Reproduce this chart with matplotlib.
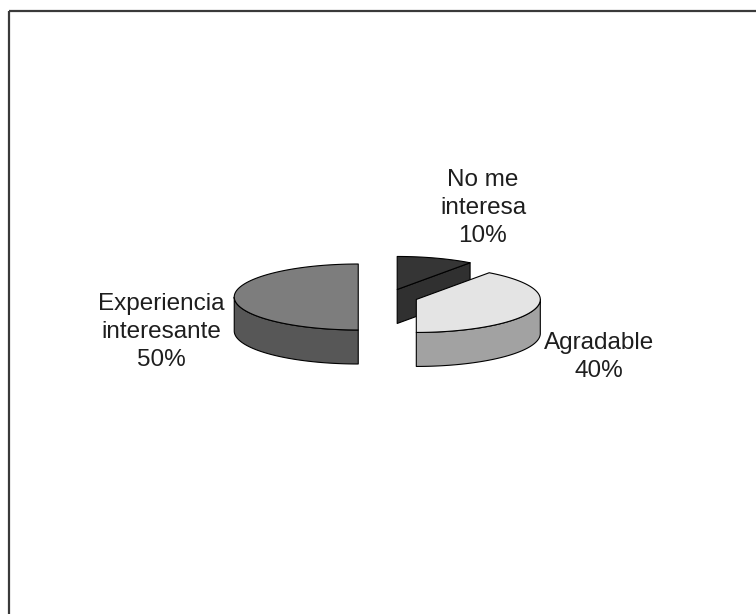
import numpy as np
import matplotlib
matplotlib.use('Agg')
import matplotlib.pyplot as plt
from matplotlib.patches import Polygon, Rectangle

plt.rcParams['font.family'] = ['Liberation Sans', 'DejaVu Sans']

# data
labels = ['No me\ninteresa', 'Agradable', 'Experiencia\ninteresante']
percent = [10, 40, 50]

# look of each slice: (top colour, side colour)
top_colors = ['#353535', '#e4e4e4', '#7d7d7d']
side_colors = ['#303030', '#a2a2a2', '#575757']
explode = 0.24

# pie geometry in pixels (figure drawn in pixel coords)
cx, cy = 388, 297
rx, ry = 124, 33
depth = 34


def pt(c, th):
    t = np.radians(th)
    return c[0] + rx * np.sin(t), c[1] - ry * np.cos(t)


fig = plt.figure(figsize=(7.56, 6.14), dpi=100)
ax = fig.add_axes([0, 0, 1, 1])
ax.set_xlim(0, 756)
ax.set_ylim(614, 0)
ax.axis('off')

# outer frame
ax.add_patch(Rectangle((9, 11), 770, 620, fill=False, ec='#3a3a3a', lw=1.6))

start = 0.0
for i, p in enumerate(percent):
    a0, a1 = start, start + p * 3.6
    start = a1
    mid = np.radians((a0 + a1) / 2)
    c = (cx + explode * rx * np.sin(mid), cy - explode * ry * np.cos(mid))
    z = 2 if i == 0 else 3
    kw = dict(ec='black', lw=0.8, joinstyle='round')

    # cut face on the a1 side
    if np.sin(np.radians(a1)) > 1e-6:
        x1, y1 = pt(c, a1)
        quad = [c, (x1, y1), (x1, y1 + depth), (c[0], c[1] + depth)]
        ax.add_patch(Polygon(quad, fc=side_colors[i], zorder=z, **kw))
    # cut face on the a0 side
    if np.sin(np.radians(a0)) < -1e-6:
        x0, y0 = pt(c, a0)
        quad = [c, (x0, y0), (x0, y0 + depth), (c[0], c[1] + depth)]
        ax.add_patch(Polygon(quad, fc=side_colors[i], zorder=z, **kw))

    # outer wall, front part only
    w0, w1 = max(a0, 90), min(a1, 270)
    if w1 > w0:
        th = np.linspace(w0, w1, 80)
        xs, ys = pt(c, th)
        wall = np.vstack([np.column_stack([xs, ys]),
                          np.column_stack([xs, ys + depth])[::-1]])
        ax.add_patch(Polygon(wall, fc=side_colors[i], zorder=z, **kw))

    # top face
    th = np.linspace(a0, a1, 120)
    xs, ys = pt(c, th)
    top = np.vstack([[c], np.column_stack([xs, ys])])
    ax.add_patch(Polygon(top, fc=top_colors[i], zorder=z + 0.5, **kw))

# labels
label_pos = [(483, 208), (599, 357), (161, 332)]
for lab, p, (x, y) in zip(labels, percent, label_pos):
    ax.text(x, y, f'{lab}\n{p}%', ha='center', va='center', fontsize=17.5,
            color='#1e1e1e', linespacing=1.36, zorder=5)

fig.savefig('out.png', dpi=100, facecolor='white')
